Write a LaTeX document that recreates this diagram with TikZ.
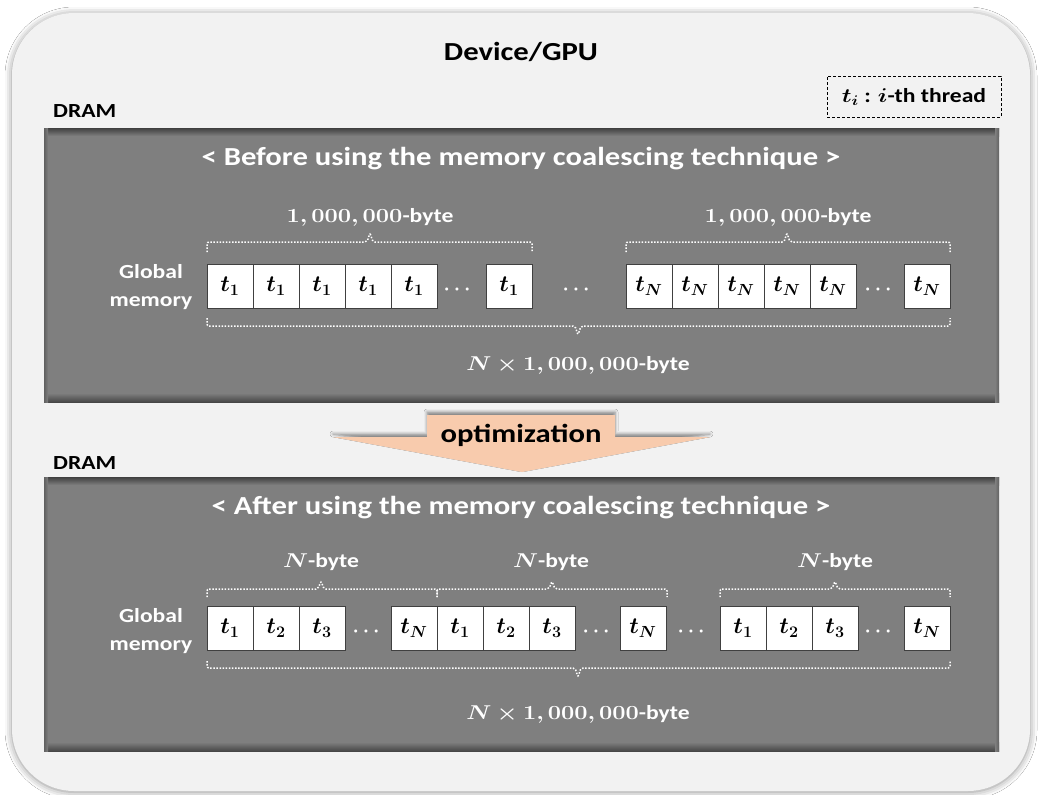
\RequirePackage{fix-cm}
\documentclass[tikz,border=0pt]{standalone}
\usepackage[no-math]{fontspec}
\setmainfont{Carlito}
\usepackage{amsmath,bm,graphicx}
\usetikzlibrary{shadows.blur}

\definecolor{boxbg}{HTML}{F2F2F2}
\definecolor{panelbg}{HTML}{7F7F7F}
\definecolor{arrowfill}{HTML}{F8CBAD}
\newcommand\sx[1]{\scalebox{1.18}[1]{#1}}

\tikzset{
  cell/.style={draw=black!75, line width=0.9pt, fill=white, minimum width=46pt,
    minimum height=44pt, inner sep=0pt, font=\fontsize{23}{23}\selectfont},
  wlabel/.style={text=white, font=\bfseries\fontsize{20}{24}\selectfont, inner sep=0pt},
  heading/.style={font=\bfseries\fontsize{26}{30}\selectfont, inner sep=0pt},
  dotsnode/.style={text=white, font=\fontsize{20}{20}\selectfont, inner sep=0pt},
  brace/.style={draw=white, line width=1.5pt, dash pattern=on 1.5pt off 1.6pt,
    rounded corners=2pt},
  panel/.style={fill=panelbg, minimum width=955pt, minimum height=274pt, inner sep=0pt}
}

\begin{document}
\begin{tikzpicture}[x=1pt, y=-1pt]
\useasboundingbox (0,0) rectangle (1042,795);
\fill[white] (0,0) rectangle (1042,795);

% device frame
\path[fill=boxbg, rounded corners=62pt,
  blur shadow={shadow xshift=0pt, shadow yshift=-1pt, shadow blur radius=7pt, shadow opacity=45}]
  (12,13) rectangle (1030,791);

\node[heading, anchor=base] (dev) at (521,60) {\sx{Device/GPU}};

% legend
\node[draw, dashed, line width=0.9pt, dash pattern=on 3pt off 2pt, minimum width=174pt,
  minimum height=41pt, inner sep=0pt, font=\bfseries\fontsize{20}{24}\selectfont]
  (legend) at (914,96.5) {\sx{$\bm{t_i}$ : $\bm{i}$-th thread}};

% ---------- upper DRAM panel ----------
\node[font=\bfseries\fontsize{20}{24}\selectfont, anchor=base west, inner sep=0pt]
  (dram1) at (53,117) {\sx{DRAM}};
\node[panel] (top) at (521.5,265) {};
\shade[top color=black!75, bottom color=panelbg] (44,128) rectangle (999,136);
\shade[top color=panelbg, bottom color=black!72] (44,393) rectangle (999,402);
\shade[left color=black!62, right color=panelbg] (44,128) rectangle (48,402);
\shade[left color=panelbg, right color=black!62] (995,128) rectangle (999,402);

\node[heading, text=white, anchor=base] (title1) at (521,165)
  {\sx{< Before using the memory coalescing technique >}};

\node[wlabel, align=center] (gm1) at (151,287) {\sx{Global}\\[4pt]\sx{memory}};

\foreach \i/\x in {1/230,2/276,3/322,4/368,5/414}
  \node[cell] (a\i) at (\x,286) {$\bm{t_1}$};
\node[dotsnode] (ad1) at (459,290) {$\bm{\cdots}$};
\node[cell] (a6) at (509,286) {$\bm{t_1}$};
\node[dotsnode] (ad2) at (578,290) {$\bm{\cdots}$};
\foreach \i/\x in {1/649,2/695,3/741,4/787,5/833}
  \node[cell] (n\i) at (\x,286) {$\bm{t_N}$};
\node[dotsnode] (ad3) at (880,290) {$\bm{\cdots}$};
\node[cell] (n6) at (927,286) {$\bm{t_N}$};

\draw[brace] (207,252) -- (207,242) -- (367,242) -- (370,233) -- (373,242) -- (532,242) -- (532,252);
\draw[brace] (626,252) -- (626,242) -- (784,242) -- (787,233) -- (790,242) -- (950,242) -- (950,252);
\draw[brace] (207,318) -- (207,326) -- (575,326) -- (578,335) -- (581,326) -- (950,326) -- (950,318);

\node[wlabel, anchor=base] (s1) at (370,222) {\sx{$\bm{1,000,000}$-byte}};
\node[wlabel, anchor=base] (s2) at (788,222) {\sx{$\bm{1,000,000}$-byte}};
\node[wlabel, anchor=base] (s3) at (578,370) {\sx{$\bm{N\times1,000,000}$-byte}};

% ---------- optimization arrow ----------
\path[fill=arrowfill,
  blur shadow={shadow xshift=0pt, shadow yshift=3pt, shadow blur radius=3pt, shadow opacity=45}]
  (333,437) -- (427,437) -- (427,415) -- (615,415) -- (615,437) -- (710,437) -- (522,472) -- cycle;
\node[heading, anchor=base] (opt) at (521,442) {\sx{optimization}};

% ---------- lower DRAM panel ----------
\node[font=\bfseries\fontsize{20}{24}\selectfont, anchor=base west, inner sep=0pt]
  (dram2) at (53,469) {\sx{DRAM}};
\node[panel] (bot) at (521.5,614) {};
\shade[top color=black!75, bottom color=panelbg] (44,477) rectangle (999,485);
\shade[top color=panelbg, bottom color=black!72] (44,742) rectangle (999,751);
\shade[left color=black!62, right color=panelbg] (44,477) rectangle (48,751);
\shade[left color=panelbg, right color=black!62] (995,477) rectangle (999,751);

\node[heading, text=white, anchor=base] (title2) at (521,514)
  {\sx{< After using the memory coalescing technique >}};

\node[wlabel, align=center] (gm2) at (151,631) {\sx{Global}\\[4pt]\sx{memory}};

\node[cell] (b1) at (230,628) {$\bm{t_1}$};
\node[cell] (b2) at (276,628) {$\bm{t_2}$};
\node[cell] (b3) at (322,628) {$\bm{t_3}$};
\node[dotsnode] (bd1) at (368,632) {$\bm{\cdots}$};
\node[cell] (b4) at (414,628) {$\bm{t_N}$};
\node[cell] (c1) at (460,628) {$\bm{t_1}$};
\node[cell] (c2) at (506,628) {$\bm{t_2}$};
\node[cell] (c3) at (552,628) {$\bm{t_3}$};
\node[dotsnode] (bd2) at (598,632) {$\bm{\cdots}$};
\node[cell] (c4) at (643,628) {$\bm{t_N}$};
\node[dotsnode] (bd3) at (693,632) {$\bm{\cdots}$};
\node[cell] (d1) at (743,628) {$\bm{t_1}$};
\node[cell] (d2) at (789,628) {$\bm{t_2}$};
\node[cell] (d3) at (835,628) {$\bm{t_3}$};
\node[dotsnode] (bd4) at (880,632) {$\bm{\cdots}$};
\node[cell] (d4) at (927,628) {$\bm{t_N}$};

\draw[brace] (207,597) -- (207,589) -- (318,589) -- (321,581) -- (324,589) -- (437,589) -- (437,597);
\draw[brace] (437,597) -- (437,589) -- (549,589) -- (552,581) -- (555,589) -- (667,589) -- (667,597);
\draw[brace] (720,597) -- (720,589) -- (832,589) -- (835,581) -- (838,589) -- (950,589) -- (950,597);
\draw[brace] (207,661) -- (207,668) -- (575,668) -- (578,677) -- (581,668) -- (950,668) -- (950,661);

\node[wlabel, anchor=base] (nb1) at (321,567) {\sx{$\bm{N}$-byte}};
\node[wlabel, anchor=base] (nb2) at (551,567) {\sx{$\bm{N}$-byte}};
\node[wlabel, anchor=base] (nb3) at (835,567) {\sx{$\bm{N}$-byte}};
\node[wlabel, anchor=base] (s4) at (578,719) {\sx{$\bm{N\times1,000,000}$-byte}};
\end{tikzpicture}
\end{document}
